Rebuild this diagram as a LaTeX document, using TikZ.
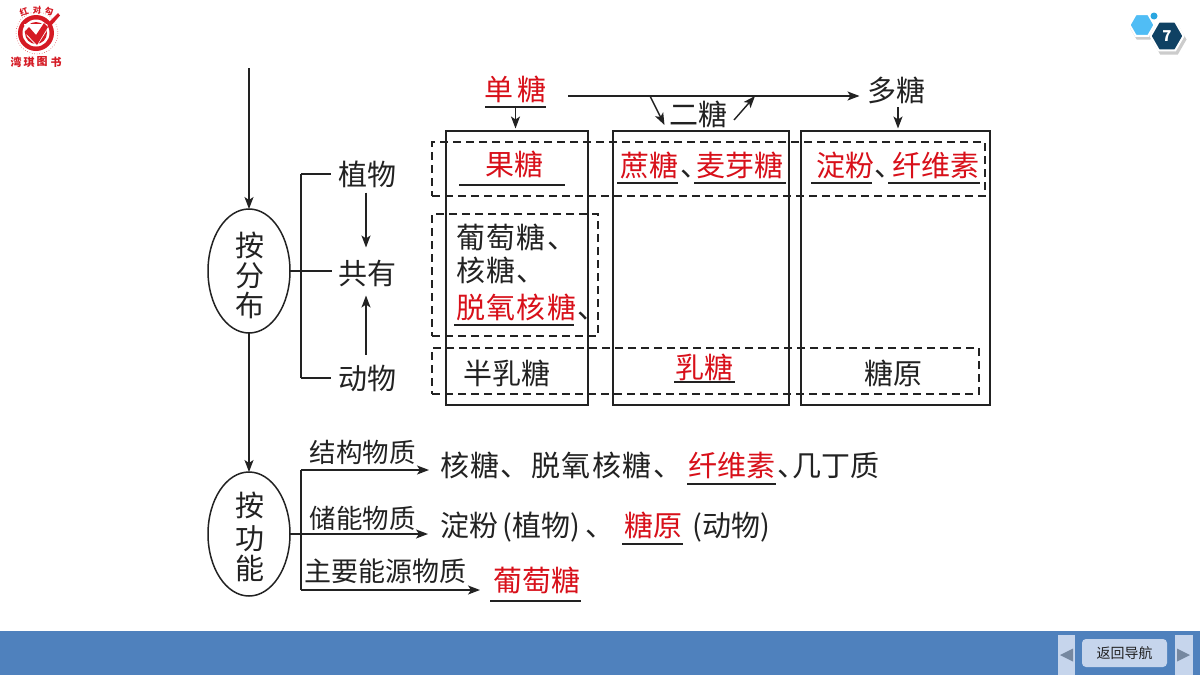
\documentclass[tikz,border=0pt]{standalone}
\usepackage{fontspec}
\setmainfont{Noto Sans CJK SC}
\usetikzlibrary{arrows.meta,shapes.geometric,calc}
\definecolor{inkc}{HTML}{222222}
\definecolor{redc}{HTML}{D8101A}
\definecolor{barc}{HTML}{4F81BD}
\definecolor{btnc}{HTML}{C6D5EC}
\definecolor{tric}{HTML}{7688A0}
\definecolor{hexd}{HTML}{0F4163}
\definecolor{hexl}{HTML}{50BDF5}
\definecolor{hexs}{HTML}{2AA6E0}
\definecolor{logor}{HTML}{D51A24}
\newcommand{\wide}{\addfontfeature{LetterSpace=5}}
\tikzset{
  x=1pt,y=-1pt,
  line/.style={line width=1.4pt,draw=inkc},
  arr/.style={line,-{Stealth[length=12pt,width=9pt,inset=3pt]}},
  lbl/.style={inner sep=0pt,outer sep=0pt,text=inkc,text height=25.5pt,text depth=3.5pt,font=\fontsize{29}{34}\selectfont},
  sml/.style={lbl,text height=23pt,text depth=3pt,font=\fontsize{26.5}{30}\selectfont},
  ans/.style={lbl,text=redc},
  ulbar/.style={inner sep=0pt,outer sep=0pt,minimum height=2pt,fill=inkc,draw=none},
  colbox/.style={rectangle,draw=inkc,line width=1.5pt,inner sep=0pt,outer sep=0pt},
  dashbox/.style={rectangle,draw=inkc,line width=1.2pt,dash pattern=on 8pt off 5pt,inner sep=0pt,outer sep=0pt},
  oval/.style={ellipse,draw=inkc,line width=1.5pt,inner sep=0pt,outer sep=0pt,minimum width=82pt,minimum height=124pt},
  hexa/.style={regular polygon,regular polygon sides=6,inner sep=0pt,outer sep=0pt,line width=2pt,draw=white},
  hexsh/.style={regular polygon,regular polygon sides=6,inner sep=0pt,outer sep=0pt,fill=black!20,draw=none},
  logot/.style={inner sep=0pt,text=logor,font=\fontsize{11}{11}\bfseries\selectfont},
  logos/.style={inner sep=0pt,text=logor,font=\fontsize{8.5}{9}\bfseries\selectfont},
}
\begin{document}
\begin{tikzpicture}
\useasboundingbox (0,0) rectangle (1200,675);
\fill[white] (0,0) rectangle (1200,675);

% logo
\draw[logor,line width=0.5pt,dotted] (37,33) circle (21);
\fill[logor] (36,33) circle (18);
\fill[white] (36,33) circle (13.5);
\fill[logor] (36,33) circle (11);
\fill[white] (24,24) -- (48,24) -- (46,32) -- (37,46) -- (27,36) -- cycle;
\fill[logor] (24.5,32) -- (29,27) -- (36,35) -- (44,23) -- (48,27) -- (37,45) -- cycle;
\fill[logor] (47,24) -- (58,13) -- (60,15.5) -- (50,27) -- cycle;
\node[logos,rotate=20] (lg1) at (24,12) {红};
\node[logos] (lg2) at (37,10) {对};
\node[logos,rotate=-15] (lg3) at (49,11) {勾};
\node[logot] (lg4) at (16,62) {湾};
\node[logot] (lg5) at (29,62) {琪};
\node[logot] (lg6) at (42,62) {图};
\node[logot] (lg7) at (56,62) {书};

% page badge
\node[hexsh,minimum size=27pt] (hs1) at (1143.5,28) {};
\node[hexsh,minimum size=35pt] (hs2) at (1169,39.5) {};
\node[hexa,fill=hexl,minimum size=25pt] (hx1) at (1142,25) {};
\node[hexa,fill=hexd,minimum size=33pt] (hx2) at (1167,36) {};
\node[inner sep=0pt,text=white,font=\fontsize{15}{15}\bfseries\selectfont] (pg) at (1167,36.5) {7};
\fill[hexs] (1154,16) circle (3.5);

% footer
\fill[barc] (0,631) rectangle (1200,675);
\fill[btnc] (1057.5,635) rectangle (1075,675);
\fill[btnc] (1174.5,635) rectangle (1192.5,675);
\fill[tric] (1060,655) -- (1073,648.5) -- (1073,661.5) -- cycle;
\fill[tric] (1190,655) -- (1177,648.5) -- (1177,661.5) -- cycle;
\node[rectangle,rounded corners=4pt,fill=btnc,minimum width=85pt,minimum height=28pt,inner sep=0pt,text=inkc,font=\fontsize{14}{14}\selectfont] (nav) at (1124.5,653) {返回导航};

% dashed groups
\node[dashbox,minimum width=553pt,minimum height=54pt] (dtop) at (708.5,169) {};
\node[dashbox,minimum width=547pt,minimum height=46pt] (dbot) at (705.5,371) {};
\node[dashbox,minimum width=166pt,minimum height=122pt] (dleft) at (515,275) {};

% columns
\node[colbox,minimum width=142pt,minimum height=274pt] (c1) at (517,268) {};
\node[colbox,minimum width=176pt,minimum height=274pt] (c2) at (701,268) {};
\node[colbox,minimum width=189pt,minimum height=274pt] (c3) at (895.5,268) {};

% top row
\node[ans] (dan) at (515.5,89) {单\,糖};
\node[ulbar,minimum width=61pt] (udan) at (515.5,106.5) {};
\node[lbl] (er) at (698,114) {二糖};
\node[lbl] (duo) at (896.5,90) {多糖};
\coordinate (chain) at (568,96);
\coordinate (bdown) at (650,96);
\coordinate (edown) at (664.5,125);
\coordinate (bup) at (734,120);
\coordinate (eup) at (755,96);
\draw[arr,shorten >=8pt] (chain) -- (chain -| duo.west);
\draw[arr] (bdown) -- (edown);
\draw[arr] (bup) -- (eup);
\draw[arr,shorten >=2.5pt] (udan.south) -- (udan.south |- c1.north);
\draw[arr,shorten <=2.5pt,shorten >=2.5pt] (duo.south -| 898,0) -- (898,131);

% row 1
\node[ans] (guo) at (514,164) {果糖};
\node[ulbar,minimum width=106pt] (uguo) at (512,185) {};
\node[ans] (zhe) at (649,165) {蔗糖};
\node[ulbar,minimum width=61pt] (uzhe) at (647.5,182.5) {};
\node[lbl,anchor=west] (d1) at (680,165) {、};
\node[ans] (mai) at (740,165) {麦芽糖};
\node[ulbar,minimum width=92pt] (umai) at (740,182.5) {};
\node[ans] (dian) at (845,165) {淀粉};
\node[ulbar,minimum width=61pt] (udian) at (841.5,183) {};
\node[lbl,anchor=west] (d2) at (874,165) {、};
\node[ans] (xian) at (936,165) {纤维素};
\node[ulbar,minimum width=92pt] (uxian) at (934,183) {};

% shared block
\node[lbl,anchor=west] (pu) at (456,237) {\wide 葡萄糖、};
\node[lbl,anchor=west] (he) at (456,270) {\wide 核糖、};
\node[ans,anchor=west] (tuo) at (456,307) {\wide 脱氧核糖};
\node[lbl,anchor=west] (d3) at (577,307) {、};
\node[ulbar,minimum width=120pt] (utuo) at (514,324.5) {};

% bottom row
\node[lbl] (ban) at (507,373) {半乳糖};
\node[ans] (ru) at (704,367) {乳糖};
\node[ulbar,minimum width=61pt] (uru) at (704.5,382) {};
\node[lbl] (tang) at (893,373) {糖原};

% distribution branch
\coordinate (topin) at (249,68);
\node[oval] (fb) at (249,271) {};
\node[lbl] (fb1) at (250,245) {按};
\node[lbl] (fb2) at (250,275) {分};
\node[lbl] (fb3) at (250,305) {布};
\node[lbl] (zw) at (367,174) {植物};
\node[lbl] (gy) at (367,273) {共有};
\node[lbl] (dw) at (367,378) {动物};
\coordinate (brk) at (301,271);
\draw[arr] (topin) -- (fb.north);
\draw[line,shorten >=6pt] (fb.east) -- (fb.east -| gy.west);
\draw[line,shorten >=7pt] (brk |- zw.west) -- (zw.west);
\draw[line,shorten >=7pt] (brk |- dw.west) -- (dw.west);
\draw[line] (brk |- zw.west) -- (brk |- dw.west);
\draw[arr,shorten <=4pt,shorten >=11pt] (zw.south -| 366,0) -- (gy.north -| 366,0);
\draw[arr,shorten <=9pt,shorten >=8pt] (dw.north -| 366,0) -- (gy.south -| 366,0);

% function branch
\node[oval] (gn) at (249,534) {};
\node[lbl] (gn1) at (250,505) {按};
\node[lbl] (gn2) at (250,538) {功};
\node[lbl] (gn3) at (250,568) {能};
\draw[arr] (fb.south) -- (gn.north);
\node[sml] (l1) at (362.5,452) {结构物质};
\node[sml] (l2) at (362.5,518) {储能物质};
\node[sml,font=\fontsize{27}{30}\selectfont] (l3) at (385.5,571) {主要能源物质};

\node[lbl,anchor=west] (m1) at (440,465) {\wide 核糖、脱氧核糖、};
\node[ans] (m1a) at (731.5,465) {纤维素};
\node[ulbar,minimum width=89pt] (um1a) at (731.5,483.5) {};
\node[lbl,anchor=west] (m1d) at (777,465) {、};
\node[lbl] (m1b) at (836,465) {几丁质};

\node[lbl,anchor=west] (m2) at (440,525) {淀粉\,(植物)\,、};
\node[ans] (m2a) at (653,525) {糖原};
\node[ulbar,minimum width=61pt] (um2a) at (652.5,544) {};
\node[lbl] (m2b) at (731.5,525) {(动物)};

\node[ans] (m3) at (537,580) {葡萄糖};
\node[ulbar,minimum width=91pt] (um3) at (535.5,600.5) {};

\coordinate (fj1) at (301,470);
\coordinate (fj3) at (301,590);
\coordinate (e1) at (429,470);
\coordinate (e2) at (428,534);
\coordinate (e3) at (480,590);
\draw[line] (fj1) -- (fj3);
\draw[arr] (fj1) -- (e1);
\draw[arr] (gn.east) -- (e2);
\draw[arr] (fj3) -- (e3);
\end{tikzpicture}
\end{document}
